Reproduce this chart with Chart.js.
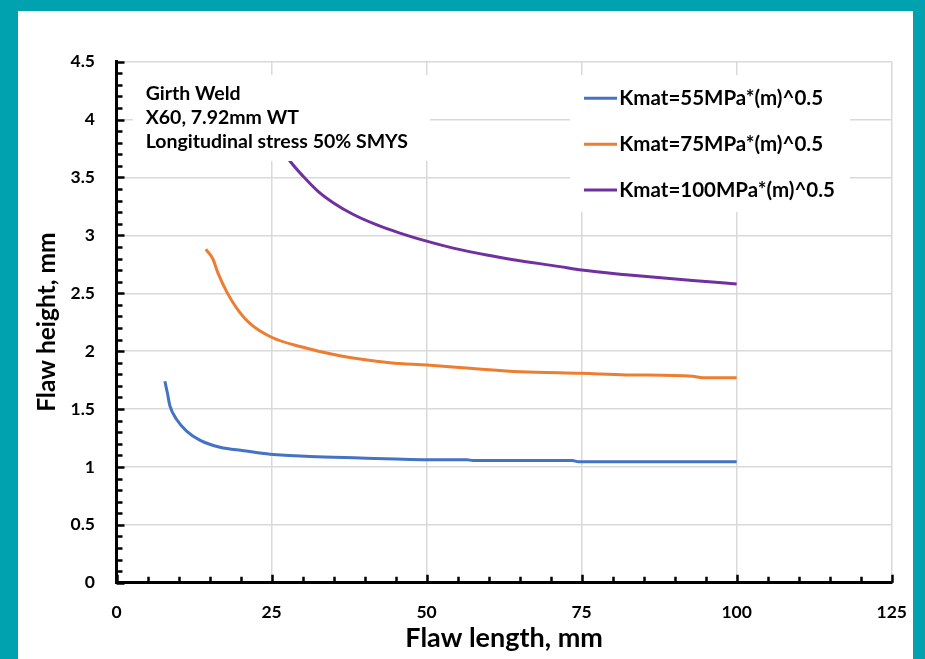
<!DOCTYPE html>
<html>
<head>
<meta charset="utf-8">
<script src="https://cdn.jsdelivr.net/npm/chart.js@4.4.0/dist/chart.umd.min.js"></script>
<style>
html, body { margin: 0; padding: 0; background: #01a2b0; }
#wrap { position: absolute; left: 18px; top: 11px; width: 895px; height: 648px; background: #fff; }
</style>
</head>
<body>
<div id="wrap"><canvas id="chart" width="895" height="648"></canvas></div>
<script>
// flaw length (mm) / flaw height (mm)
const k55Length = [7.8, 8.2, 8.6, 9.7, 11.3, 13.5, 16.7, 20.5, 24.8, 31.2, 39.3, 47.3, 52.2, 56.5, 57.5, 73.5, 74.5, 100];
const k55Height = [1.74, 1.64, 1.53, 1.41, 1.31, 1.23, 1.17, 1.14, 1.11, 1.09, 1.077, 1.065, 1.063, 1.062, 1.055, 1.055, 1.045, 1.045];

const k75Length = [14.4, 15.5, 16.4, 17.8, 19.4, 21.5, 25, 29.6, 36, 44.1, 50.1, 57.5, 65.1, 75, 82.2, 92.9, 94.5, 100];
const k75Height = [2.88, 2.80, 2.67, 2.51, 2.37, 2.24, 2.12, 2.04, 1.96, 1.90, 1.88, 1.85, 1.822, 1.808, 1.795, 1.783, 1.77, 1.77];

const k100Length = [24, 25.5, 28, 30.1, 32.5, 35, 38.2, 42, 45.7, 50, 54.3, 59.7, 64, 71.5, 75, 82.2, 92.9, 100];
const k100Height = [3.97, 3.84, 3.64, 3.51, 3.38, 3.28, 3.18, 3.09, 3.02, 2.95, 2.89, 2.83, 2.79, 2.73, 2.70, 2.66, 2.61, 2.58];

const seriesNames = ['Kmat=55MPa*(m)^0.5', 'Kmat=75MPa*(m)^0.5', 'Kmat=100MPa*(m)^0.5'];
const seriesColors = ['#4472C4', '#ED7D31', '#7030A0'];
const noteLines = ['Girth Weld', 'X60, 7.92mm WT', 'Longitudinal stress 50% SMYS'];

const FONT = 'Lato';

function pts(xs, ys) {
    return xs.map((x, i) => ({ x: x, y: ys[i] }));
}

const extras = {
    id: 'extras',
    afterDatasetsDraw(chart) {
        const ctx = chart.ctx;
        const a = chart.chartArea;
        ctx.save();
        // note box
        ctx.fillStyle = '#fff';
        ctx.fillRect(a.left + 16.5, a.top + 13.3, 297, 86);
        ctx.fillStyle = '#000';
        ctx.font = 'bold 19.5px ' + FONT;
        ctx.textBaseline = 'alphabetic';
        ctx.textAlign = 'left';
        noteLines.forEach((t, i) => ctx.fillText(t, a.left + 29.2, a.top + 38.3 + i * 24.2));
        // legend box
        ctx.fillStyle = '#fff';
        ctx.fillRect(a.left + 453.5, a.top + 13.3, 280, 137);
        ctx.font = 'bold 20.5px ' + FONT;
        chart.data.datasets.forEach((ds, i) => {
            const ly = a.top + 36.6 + i * 45.9;
            ctx.strokeStyle = ds.borderColor;
            ctx.lineWidth = 3;
            ctx.beginPath();
            ctx.moveTo(a.left + 467.5, ly);
            ctx.lineTo(a.left + 500.5, ly);
            ctx.stroke();
            ctx.fillStyle = '#000';
            ctx.fillText(ds.label, a.left + 502.8, ly + 7);
        });
        ctx.restore();
    },
    afterDraw(chart) {
        const ctx = chart.ctx;
        const a = chart.chartArea;
        const sx = chart.scales.x, sy = chart.scales.y;
        ctx.save();
        ctx.strokeStyle = '#000';
        ctx.lineWidth = 2.5;
        ctx.beginPath();
        for (let v = 0; v <= 45; v++) {
            const py = Math.round(sy.getPixelForValue(v / 10)) + 0.5;
            const len = v % 5 === 0 ? 8 : 6;
            ctx.moveTo(a.left, py);
            ctx.lineTo(a.left + len, py);
        }
        for (let v = 0; v <= 125; v += 5) {
            const px = Math.round(sx.getPixelForValue(v)) + 0.5;
            const len = v % 25 === 0 ? 8 : 6;
            ctx.moveTo(px, a.bottom);
            ctx.lineTo(px, a.bottom - len);
        }
        ctx.stroke();
        ctx.restore();
    }
};

function makeSet(i, xs, ys) {
    return {
        label: seriesNames[i],
        data: pts(xs, ys),
        borderColor: seriesColors[i],
        backgroundColor: seriesColors[i],
        borderWidth: 3,
        pointRadius: 0,
        fill: false,
        cubicInterpolationMode: 'monotone'
    };
}

const ctx = document.getElementById('chart').getContext('2d');
const chart = new Chart(ctx, {
    type: 'line',
    data: {
        datasets: [
            makeSet(0, k55Length, k55Height),
            makeSet(1, k75Length, k75Height),
            makeSet(2, k100Length, k100Height)
        ]
    },
    options: {
        responsive: false,
        animation: false,
        layout: { padding: { top: 50.7, right: 21.3, left: 0, bottom: 0 } },
        plugins: {
            legend: { display: false },
            tooltip: { enabled: false }
        },
        scales: {
            x: {
                type: 'linear',
                min: 0,
                max: 125,
                afterFit: s => { s.height = 76.3; s.paddingLeft = 0; s.paddingRight = 0; },
                ticks: {
                    stepSize: 25,
                    padding: 19,
                    color: '#000',
                    font: { family: FONT, size: 17.5, weight: 'bold' },
                    maxRotation: 0
                },
                grid: { color: '#d9d9d9', lineWidth: 1.5, drawTicks: false },
                border: { display: true, color: '#000', width: 3 },
                title: {
                    display: true,
                    text: 'Flaw length, mm',
                    color: '#000',
                    font: { family: FONT, size: 27, weight: 'bold' },
                    padding: { top: 0, bottom: 5 }
                }
            },
            y: {
                type: 'linear',
                min: 0,
                max: 4.5,
                afterFit: s => { s.width = 98.5; },
                ticks: {
                    stepSize: 0.5,
                    padding: 21.5,
                    color: '#000',
                    font: { family: FONT, size: 17.5, weight: 'bold' },
                    callback: v => String(v)
                },
                grid: { color: '#d9d9d9', lineWidth: 1.5, drawTicks: false },
                border: { display: true, color: '#000', width: 3 },
                title: {
                    display: true,
                    text: 'Flaw height, mm',
                    color: '#000',
                    font: { family: FONT, size: 24.5, weight: 'bold' },
                    padding: { top: 14, bottom: 0 }
                }
            }
        }
    },
    plugins: [extras]
});
</script>
</body>
</html>
